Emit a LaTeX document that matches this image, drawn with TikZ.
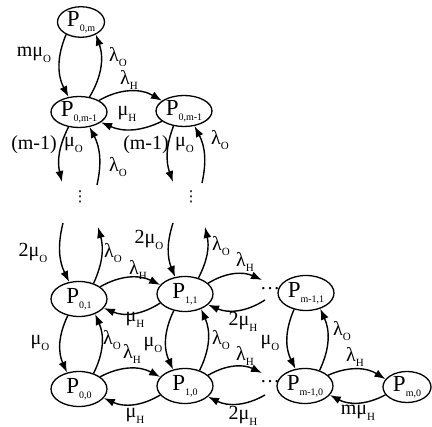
\documentclass[tikz,border=0pt]{standalone}
\usepackage{fontspec}
\setmainfont{Liberation Serif}
\newfontfamily\dejavu{DejaVu Sans}
\usetikzlibrary{arrows.meta,shapes.geometric}
\newcommand{\lsub}[1]{\raisebox{-0.28em}{\fontsize{11}{11}\selectfont #1}}
\newcommand{\pn}[1]{\fontsize{23}{23}\selectfont P\raisebox{-5pt}{\fontsize{10}{10}\selectfont #1}}
\begin{document}
\begin{tikzpicture}[x=1pt,y=-1pt,
  state/.style={draw, ellipse, line width=1.3pt, inner sep=0pt, minimum width=56pt, minimum height=35pt},
  arr/.style={line width=1.4pt, -{Latex[length=11pt,width=8pt]}},
  lab/.style={font=\fontsize{20}{20}\selectfont, inner sep=0pt},
  vdot/.style={font=\dejavu\fontsize{15}{15}\selectfont, inner sep=0pt}]
\useasboundingbox (0,0) rectangle (432,427);
% nodes
\node[state, minimum width=47pt, minimum height=28pt] (P0m) at (81,22) {\pn{0,m}};
\node[state, minimum width=56pt, minimum height=31pt] (P0mL) at (79,112) {\pn{0,m-1}};
\node[state, minimum width=56pt, minimum height=31pt] (P0mR) at (184,111) {\pn{0,m-1}};
\node[state] (P01) at (79,299) {\pn{0,1}};
\node[state] (P11) at (185,294) {\pn{1,1}};
\node[state] (P00) at (79,389) {\pn{0,0}};
\node[state] (P10) at (185,386) {\pn{1,0}};
\node[state] (Pm11) at (306,293) {\pn{m-1,1}};
\node[state] (Pm10) at (305,386) {\pn{m-1,0}};
\node[state, minimum width=48pt, minimum height=31pt] (Pm0) at (407,387) {\pn{m,0}};
% ellipsis texts
\node[vdot] (dL) at (80,197) {⋮};
\node[vdot] (dR) at (191,197) {⋮};
\node[lab, anchor=base] (hU) at (270,290) {\dots};
\node[lab, anchor=base] (hD) at (270,383) {\dots};
% free ends
\coordinate (cL1) at (62,182);
\coordinate (cL2) at (97,185);
\coordinate (cR1) at (173,182);
\coordinate (cR2) at (202,183);
\coordinate (cL3) at (63,223);
\coordinate (cL4) at (98,227);
\coordinate (cR3) at (173,223);
\coordinate (cR4) at (205,227);
\coordinate (h1) at (262,280);
\coordinate (h2) at (265,300);
\coordinate (h3) at (262,373);
\coordinate (h4) at (265,395);
% top block
\draw[arr] (P0m.220) to[bend right=25] (P0mL.125);
\draw[arr] (P0mL.55) to[bend right=25] (P0m.320);
\draw[arr] (P0mL.30) to[bend left=30] (P0mR.155);
\draw[arr] (P0mR.205) to[bend left=25] (P0mL.335);
\draw[arr] (P0mL.235) to[bend right=20] (cL1);
\draw[arr] (cL2) to[bend right=20] (P0mL.305);
\draw[arr] (P0mR.235) to[bend right=20] (cR1);
\draw[arr] (cR2) to[bend right=20] (P0mR.305);
% lower block
\draw[arr] (cL3) to[bend right=20] (P01.120);
\draw[arr] (P01.47) to[bend right=20] (cL4);
\draw[arr] (cR3) to[bend right=20] (P11.120);
\draw[arr] (P11.50) to[bend right=20] (cR4);
\draw[arr] (P01.236) to[bend right=25] (P00.126);
\draw[arr] (P00.47) to[bend right=25] (P01.317);
\draw[arr] (P11.236) to[bend right=25] (P10.126);
\draw[arr] (P10.47) to[bend right=25] (P11.317);
\draw[arr] (Pm11.234) to[bend right=25] (Pm10.119);
\draw[arr] (Pm10.47) to[bend right=25] (Pm11.312);
\draw[arr] (P01.30) to[bend left=28] (P11.160);
\draw[arr] (P11.200) to[bend left=28] (P01.340);
\draw[arr] (P00.30) to[bend left=28] (P10.160);
\draw[arr] (P10.200) to[bend left=28] (P00.340);
\draw[arr] (P11.25) to[bend left=28] (h1);
\draw[arr] (h2) to[bend left=28] (P11.335);
\draw[arr] (P10.25) to[bend left=28] (h3);
\draw[arr] (h4) to[bend left=28] (P10.335);
\draw[arr] (Pm10.25) to[bend left=28] (Pm0.160);
\draw[arr] (Pm0.200) to[bend left=28] (Pm10.340);
% labels
\node[lab] (l1) at (34,55) {mμ\lsub{O}};
\node[lab] (l2) at (118,57) {λ\lsub{O}};
\node[lab] (l3) at (129,80) {λ\lsub{H}};
\node[lab] (l4) at (127,114) {μ\lsub{H}};
\node[lab, anchor=east] (l5a) at (57,145) {(m-1)};
\node[lab, anchor=west] (l5b) at (64,145) {μ\lsub{O}};
\node[lab] (l6) at (118,167) {λ\lsub{O}};
\node[lab, anchor=east] (l7a) at (169,145) {(m-1)};
\node[lab, anchor=west] (l7b) at (175,145) {μ\lsub{O}};
\node[lab] (l8) at (220,140) {λ\lsub{O}};
\node[lab] (l9) at (33,253) {2μ\lsub{O}};
\node[lab] (l10) at (113,253) {λ\lsub{O}};
\node[lab] (l11) at (138,270) {λ\lsub{H}};
\node[lab] (l12) at (135,320) {μ\lsub{H}};
\node[lab] (l13) at (149,240) {2μ\lsub{O}};
\node[lab] (l14) at (221,246) {λ\lsub{O}};
\node[lab] (l15) at (245,262) {λ\lsub{H}};
\node[lab] (l16) at (243,322) {2μ\lsub{H}};
\node[lab] (l17) at (40,343) {μ\lsub{O}};
\node[lab] (l18) at (112,340) {λ\lsub{O}};
\node[lab] (l19) at (132,354) {λ\lsub{H}};
\node[lab] (l20) at (153,345) {μ\lsub{O}};
\node[lab] (l21) at (221,340) {λ\lsub{O}};
\node[lab] (l22) at (245,356) {λ\lsub{H}};
\node[lab] (l23) at (135,416) {μ\lsub{H}};
\node[lab] (l24) at (243,416) {2μ\lsub{H}};
\node[lab] (l25) at (270,343) {μ\lsub{O}};
\node[lab] (l26) at (342,331) {λ\lsub{O}};
\node[lab] (l27) at (355,357) {λ\lsub{H}};
\node[lab] (l28) at (358,413) {mμ\lsub{H}};
\end{tikzpicture}
\end{document}
